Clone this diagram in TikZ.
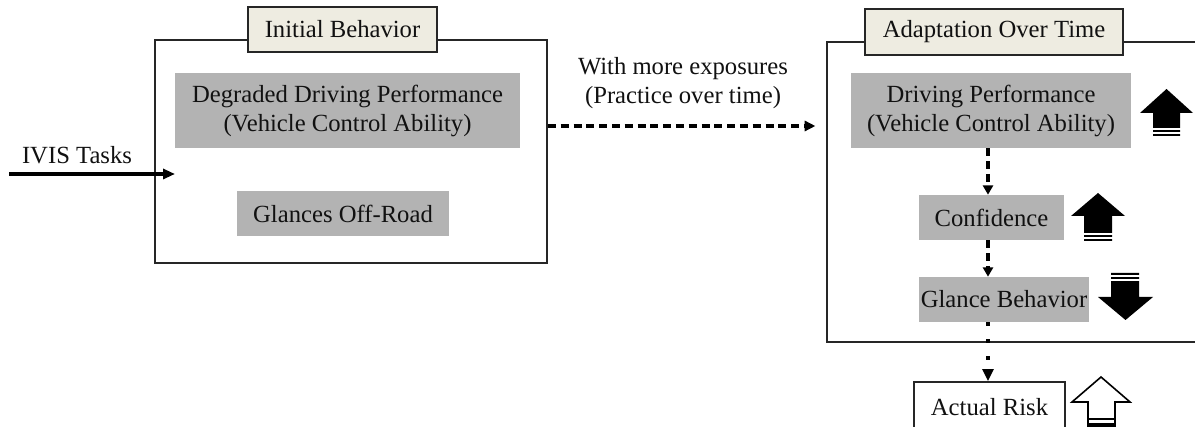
\documentclass[tikz,border=0pt]{standalone}
\usepackage{fontspec}
\setmainfont{Liberation Serif}
\usetikzlibrary{arrows.meta}
\definecolor{boxgray}{HTML}{B3B3B3}
\definecolor{labelfill}{HTML}{EEECE1}
\definecolor{txt}{HTML}{111111}
\begin{document}
\begin{tikzpicture}[x=0.75pt,y=-0.75pt,
  every node/.style={font=\fontsize{18.5}{21.75}\selectfont, text=txt, inner sep=0pt, align=center},
  bigbox/.style={draw=black!85, line width=1.4pt, fill=white, rectangle},
  labelbox/.style={draw=black!85, line width=1.2pt, fill=labelfill, rectangle},
  graybox/.style={fill=boxgray, rectangle},
  whitebox/.style={draw=black!85, line width=1.2pt, fill=white, rectangle},
  solidarrow/.style={line width=2.6pt, -{Triangle[length=9pt,width=7.5pt]}},
  dasharrow/.style={line width=2.6pt, dash pattern=on 6pt off 3.6pt, -{Triangle[length=8pt,width=7.5pt]}},
  vdasharrow/.style={line width=2.6pt, dash pattern=on 6pt off 3.6pt, -{Triangle[length=7pt,width=7.5pt]}},
  dotarrow/.style={line width=3pt, dash pattern=on 3pt off 9.75pt, -{Triangle[length=9pt,width=8pt]}},
  stripe/.style={fill=white}
]
\useasboundingbox (0,0) rectangle (1195,427);
\clip (0,0) rectangle (1195,427);
\fill[white] (0,0) rectangle (1195,427);

% left group
\node[bigbox, minimum width=294pt, minimum height=167.25pt] (lb) at (351,151.5) {};
\node[labelbox, minimum width=141.75pt, minimum height=33.75pt] (lbl) at (342.5,29.5) {Initial Behavior};
\node[graybox, minimum width=258.75pt, minimum height=56.25pt] (ddp) at (347.5,110.5) {Degraded Driving Performance\\(Vehicle Control Ability)};
\node[graybox, minimum width=159pt, minimum height=33.75pt] (gor) at (343,213.5) {Glances Off-Road};

% IVIS
\node (ivis) at (77,155) {IVIS Tasks};
\coordinate (ivstart) at (9,174);
\coordinate (ivend) at (175,174);
\draw[solidarrow] (ivstart) -- (ivend);

% right group
\node[bigbox, minimum width=291pt, minimum height=225pt] (rb) at (1021,192) {};
\node[labelbox, minimum width=193.5pt, minimum height=34.5pt] (rbl) at (994,32) {Adaptation Over Time};
\node[graybox, minimum width=210pt, minimum height=56.25pt] (dp) at (991,110.5) {Driving Performance\\(Vehicle Control Ability)};
\node[graybox, minimum width=108.75pt, minimum height=33.75pt] (conf) at (991.5,217.5) {Confidence};
\node[graybox, minimum width=127.5pt, minimum height=33.75pt] (gb) at (1004,299.5) {Glance Behavior};
\node[whitebox, minimum width=113.25pt, minimum height=37.5pt] (risk) at (989.5,407) {Actual Risk};

% middle dashed arrow
\coordinate (midy) at (0,126);
\node (exp) at (683,83) {With more exposures\\(Practice over time)};
\draw[dasharrow, shorten >=8pt] (lb.east |- midy) -- (rb.west |- midy);

% vertical connectors
\coordinate (vx) at (988,0);
\draw[vdasharrow] (dp.south -| vx) -- (conf.north -| vx);
\draw[vdasharrow] (conf.south -| vx) -- (gb.north -| vx);
\draw[dotarrow] (gb.south -| vx) -- (risk.north -| vx);

% striped up arrow 1
\fill[black] (1166.5,89) -- (1193,113) -- (1180,113) -- (1180,136) -- (1153,136) -- (1153,113) -- (1140,113) -- cycle;
\fill[stripe] (1152,128.3) rectangle (1181,130);
\fill[stripe] (1152,131.7) rectangle (1181,134);

% striped up arrow 2
\fill[black] (1098,193) -- (1125,216) -- (1112,216) -- (1112,241) -- (1084,241) -- (1084,216) -- (1071,216) -- cycle;
\fill[stripe] (1083,233.3) rectangle (1113,235);
\fill[stripe] (1083,236.7) rectangle (1113,239);

% striped down arrow
\fill[black] (1111,273) -- (1139,273) -- (1139,297) -- (1153,297) -- (1125.5,320) -- (1098,297) -- (1111,297) -- cycle;
\fill[stripe] (1110,275) rectangle (1140,277.3);
\fill[stripe] (1110,279) rectangle (1140,280.7);

% hollow up arrow
\draw[line width=1.2pt, fill=white] (1101,377) -- (1130,402) -- (1115,402) -- (1115,432) -- (1088,432) -- (1088,402) -- (1072,402) -- cycle;
\fill[black] (1088,417.5) rectangle (1115,419.5);
\fill[black] (1088,422.5) rectangle (1115,432);
\end{tikzpicture}
\end{document}
